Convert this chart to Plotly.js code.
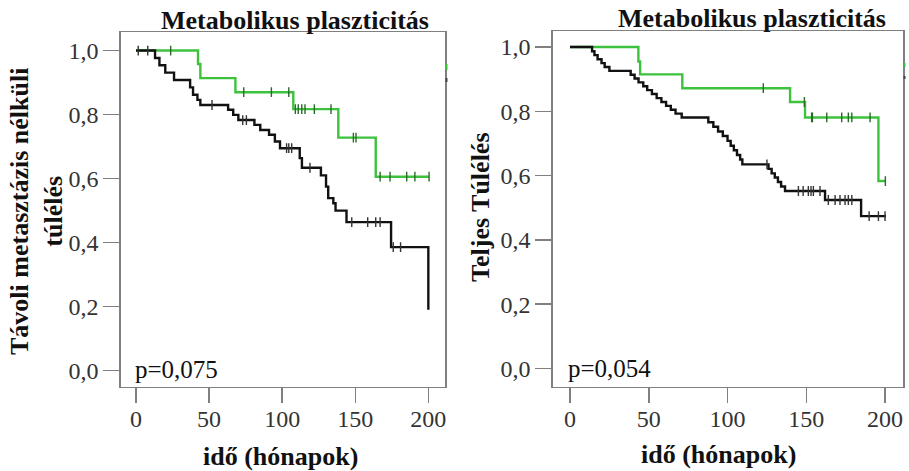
<!DOCTYPE html>
<html>
<head>
<meta charset="utf-8">
<script src="https://cdn.plot.ly/plotly-3.0.1.min.js"></script>
<style>
html,body{margin:0;padding:0;background:#fff;}
#chart{width:909px;height:471px;}
</style>
</head>
<body>
<div id="chart"></div>
<script>
// ---- Data ----
// Left panel: Távoli metasztázis nélküli túlélés
var leftBlackT = [0, 13, 16, 20, 26, 37, 39, 42, 44, 63, 66.5, 70, 81, 85, 91, 95, 98.5, 112, 113.5, 126.5, 130, 131.5, 135, 136.5, 144, 174.5, 200];
var leftBlackS = [1, 0.977, 0.954, 0.931, 0.908, 0.885, 0.862, 0.846, 0.83, 0.815, 0.799, 0.783, 0.768, 0.752, 0.737, 0.716, 0.695, 0.664, 0.634, 0.61, 0.575, 0.539, 0.523, 0.50, 0.464, 0.386, 0.19];
var leftBlackCensT = [1.5, 8, 52, 73, 75.5, 103, 104.5, 106.5, 119, 147.6, 158.5, 164, 167, 176, 181];
var leftBlackCensS = [1, 1, 0.83, 0.783, 0.783, 0.695, 0.695, 0.695, 0.634, 0.464, 0.464, 0.464, 0.464, 0.386, 0.386];

var leftGreenT = [0, 42.4, 44, 68, 107.6, 138.4, 164, 200.5];
var leftGreenS = [1, 0.958, 0.914, 0.87, 0.817, 0.728, 0.606, 0.606];
var leftGreenCensT = [23.7, 73.7, 92.6, 104.5, 109, 111, 113.4, 115.6, 122, 133.4, 148.7, 150.5, 167, 173.8, 185.2, 190.8, 200.5];
var leftGreenCensS = [1, 0.87, 0.87, 0.87, 0.817, 0.817, 0.817, 0.817, 0.817, 0.817, 0.728, 0.728, 0.606, 0.606, 0.606, 0.606, 0.606];

// Right panel: Teljes Túlélés
var rightBlackT = [0, 14, 15.5, 17.5, 20, 22, 25, 38.5, 41, 43.5, 46.5, 49, 52, 55, 58, 61, 64, 67, 70.9, 87.8, 91, 94, 97, 100, 102, 104, 106, 108, 109.4, 126, 128, 130, 132, 134, 136.5, 161.9, 184.8, 200.6];
var rightBlackS = [1, 0.987, 0.975, 0.962, 0.950, 0.938, 0.926, 0.914, 0.902, 0.890, 0.878, 0.866, 0.854, 0.841, 0.829, 0.817, 0.805, 0.793, 0.781, 0.766, 0.752, 0.737, 0.723, 0.708, 0.693, 0.679, 0.664, 0.650, 0.635, 0.621, 0.607, 0.594, 0.580, 0.566, 0.552, 0.524, 0.474, 0.474];
var rightBlackCensT = [125, 145, 148, 151.3, 153, 154.5, 158.7, 164, 168.3, 171.4, 174.6, 176.7, 178.9, 189.9, 195.8, 200];
var rightBlackCensS = [0.635, 0.552, 0.552, 0.552, 0.552, 0.552, 0.552, 0.524, 0.524, 0.524, 0.524, 0.524, 0.524, 0.474, 0.474, 0.474];

var rightGreenT = [0, 43.4, 44.5, 71.3, 139.7, 149.2, 195.8, 200.2];
var rightGreenS = [1, 0.955, 0.915, 0.872, 0.829, 0.781, 0.583, 0.583];
var rightGreenCensT = [122.7, 148.8, 153.4, 153.9, 163, 172.5, 176.7, 178.9, 190.5, 200.2];
var rightGreenCensS = [0.872, 0.829, 0.781, 0.781, 0.781, 0.781, 0.781, 0.781, 0.781, 0.583];

// Tick labels
var xTickVals = [0, 50, 100, 150, 200];
var xTickText = ['0', '50', '100', '150', '200'];
var yTickVals = [0, 0.2, 0.4, 0.6, 0.8, 1.0];
var yTickText = ['0,0', '0,2', '0,4', '0,6', '0,8', '1,0'];

// Texts
var panelTitle = 'Metabolikus plaszticitás';
var xTitle = 'idő (hónapok)';
var leftYTitle = 'Távoli metasztázis nélküli<br>túlélés';
var rightYTitle = 'Teljes Túlélés';
var leftP = 'p=0,075';
var rightP = 'p=0,054';

// ---- Styling ----
var GREEN = '#3cc23c';
var BLACK = '#111111';
var GRID = '#808080';
var SERIF = 'Liberation Serif, Times New Roman, serif';

function stepTrace(x, y, color, xa, ya) {
  return {x: x, y: y, type: 'scatter', mode: 'lines', line: {shape: 'hv', color: color, width: 2.4},
          xaxis: xa, yaxis: ya, hoverinfo: 'skip', showlegend: false, cliponaxis: false};
}
function censTrace(x, y, color, xa, ya) {
  return {x: x, y: y, type: 'scatter', mode: 'markers',
          marker: {symbol: 'line-ns', size: 7, line: {color: color, width: 1.4}},
          xaxis: xa, yaxis: ya, hoverinfo: 'skip', showlegend: false};
}

var data = [
  stepTrace(leftGreenT, leftGreenS, GREEN, 'x', 'y'),
  censTrace(leftGreenCensT, leftGreenCensS, '#2a6a2a', 'x', 'y'),
  stepTrace(leftBlackT, leftBlackS, BLACK, 'x', 'y'),
  censTrace(leftBlackCensT, leftBlackCensS, '#333333', 'x', 'y'),
  stepTrace(rightGreenT, rightGreenS, GREEN, 'x2', 'y2'),
  censTrace(rightGreenCensT, rightGreenCensS, '#2a6a2a', 'x2', 'y2'),
  stepTrace(rightBlackT, rightBlackS, BLACK, 'x2', 'y2'),
  censTrace(rightBlackCensT, rightBlackCensS, '#333333', 'x2', 'y2')
];

function xAxis(domain, range, anchor) {
  return {domain: domain, range: range, anchor: anchor, tickvals: xTickVals, ticktext: xTickText,
          ticks: 'outside', ticklen: 15, tickwidth: 1.5, tickcolor: GRID,
          ticklabelstandoff: -5,
          showline: true, mirror: true, linecolor: GRID, linewidth: 1.5,
          showgrid: false, zeroline: false, fixedrange: true,
          tickfont: {family: SERIF, size: 24, color: '#333'}};
}
function yAxis(domain, range, anchor) {
  return {domain: domain, range: range, anchor: anchor, tickvals: yTickVals, ticktext: yTickText,
          ticks: 'outside', ticklen: 16, tickwidth: 1.5, tickcolor: GRID,
          showline: true, mirror: true, linecolor: GRID, linewidth: 1.5,
          showgrid: false, zeroline: false, fixedrange: true,
          tickfont: {family: SERIF, size: 24, color: '#333'}};
}

var W = 909, H = 471;
function px(x) { return x / W; }
function py(y) { return (H - y) / H; }

var titleFont = {family: SERIF, size: 26, color: '#111'};
var layout = {
  width: W, height: H, autosize: false,
  margin: {l: 0, r: 0, t: 0, b: 0},
  paper_bgcolor: '#fff', plot_bgcolor: '#fff',
  font: {family: SERIF},
  showlegend: false,
  xaxis: xAxis([px(120.7), px(445)], [-10.5, 211.4], 'y'),
  yaxis: yAxis([py(386.7), py(32)], [-0.05, 1.058], 'x'),
  xaxis2: xAxis([px(552.7), px(903)], [-11, 211.4], 'y2'),
  yaxis2: yAxis([py(386.7), py(31)], [-0.057, 1.05], 'x2'),
  annotations: [
    {text: '<b>' + panelTitle + '</b>', xref: 'paper', yref: 'paper', x: px(295), y: py(21), xanchor: 'center', yanchor: 'middle', showarrow: false, font: titleFont},
    {text: '<b>' + panelTitle + '</b>', xref: 'paper', yref: 'paper', x: px(752), y: py(19), xanchor: 'center', yanchor: 'middle', showarrow: false, font: titleFont},
    {text: '<b>' + xTitle + '</b>', xref: 'paper', yref: 'paper', x: px(280), y: py(456), xanchor: 'center', yanchor: 'middle', showarrow: false, font: titleFont},
    {text: '<b>' + xTitle + '</b>', xref: 'paper', yref: 'paper', x: px(718), y: py(454), xanchor: 'center', yanchor: 'middle', showarrow: false, font: titleFont},
    {text: '<b>' + leftYTitle + '</b>', xref: 'paper', yref: 'paper', x: px(36), y: py(212), xanchor: 'center', yanchor: 'middle', textangle: -90, showarrow: false, font: titleFont},
    {text: '<b>' + rightYTitle + '</b>', xref: 'paper', yref: 'paper', x: px(480), y: py(207), xanchor: 'center', yanchor: 'middle', textangle: -90, showarrow: false, font: titleFont},
    {text: leftP, xref: 'paper', yref: 'paper', x: px(133), y: py(369), xanchor: 'left', yanchor: 'middle', showarrow: false, font: {family: SERIF, size: 25, color: '#111'}},
    {text: rightP, xref: 'paper', yref: 'paper', x: px(566), y: py(368), xanchor: 'left', yanchor: 'middle', showarrow: false, font: {family: SERIF, size: 25, color: '#111'}}
  ],
  shapes: [
    {type: 'line', xref: 'paper', yref: 'paper', x0: px(446.5), x1: px(446.5), y0: py(64), y1: py(70), line: {color: GREEN, width: 2}},
    {type: 'line', xref: 'paper', yref: 'paper', x0: px(446.5), x1: px(446.5), y0: py(78), y1: py(82), line: {color: '#444', width: 2}},
    {type: 'line', xref: 'paper', yref: 'paper', x0: px(904.5), x1: px(904.5), y0: py(63), y1: py(67), line: {color: GREEN, width: 2}},
    {type: 'line', xref: 'paper', yref: 'paper', x0: px(904.5), x1: px(904.5), y0: py(76), y1: py(79), line: {color: '#444', width: 2}}
  ]
};

Plotly.newPlot('chart', data, layout, {staticPlot: true, displayModeBar: false});
</script>
</body>
</html>
